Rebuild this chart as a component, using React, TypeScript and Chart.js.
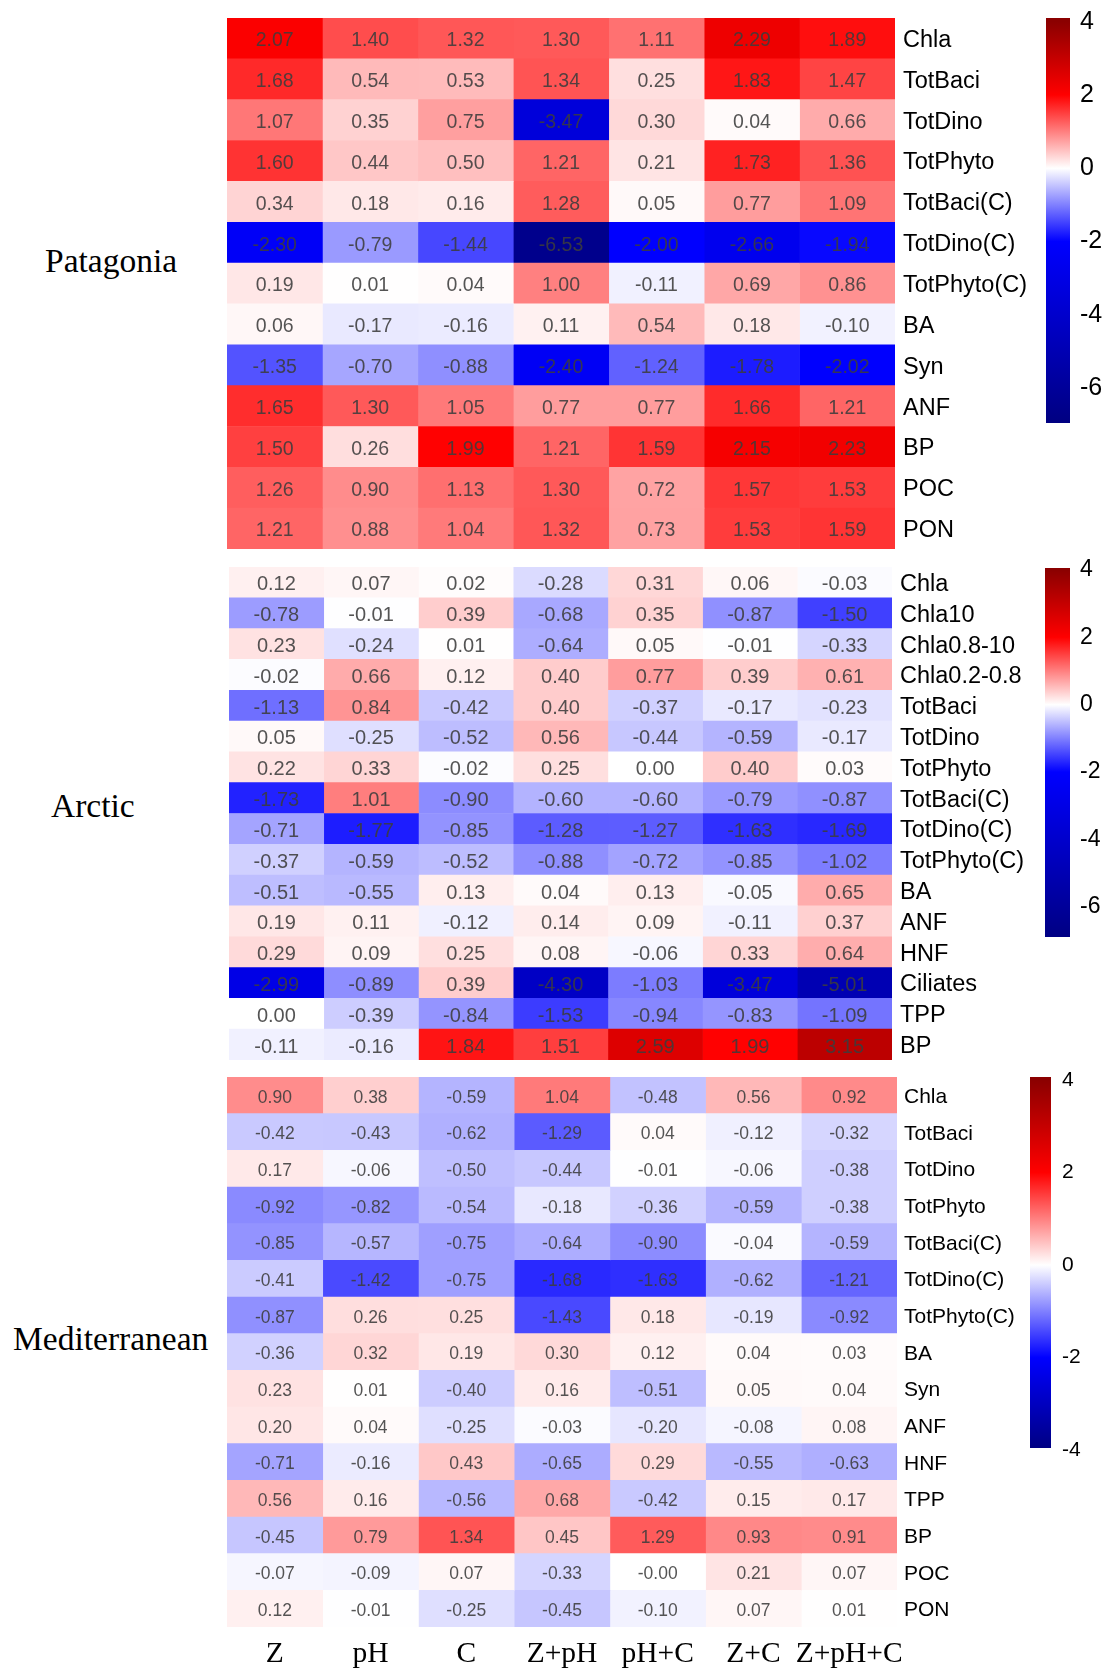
import React, { useEffect, useRef } from "react";
import { Chart, registerables } from "chart.js";
Chart.register(...registerables);

// ---------- data ----------
const columns = ["Z", "pH", "C", "Z+pH", "pH+C", "Z+C", "Z+pH+C"];

const patagoniaRows = ["Chla", "TotBaci", "TotDino", "TotPhyto", "TotBaci(C)", "TotDino(C)", "TotPhyto(C)", "BA", "Syn", "ANF", "BP", "POC", "PON"];
const patagoniaValues = [
  [2.07, 1.40, 1.32, 1.30, 1.11, 2.29, 1.89],
  [1.68, 0.54, 0.53, 1.34, 0.25, 1.83, 1.47],
  [1.07, 0.35, 0.75, -3.47, 0.30, 0.04, 0.66],
  [1.60, 0.44, 0.50, 1.21, 0.21, 1.73, 1.36],
  [0.34, 0.18, 0.16, 1.28, 0.05, 0.77, 1.09],
  [-2.30, -0.79, -1.44, -6.53, -2.00, -2.66, -1.94],
  [0.19, 0.01, 0.04, 1.00, -0.11, 0.69, 0.86],
  [0.06, -0.17, -0.16, 0.11, 0.54, 0.18, -0.10],
  [-1.35, -0.70, -0.88, -2.40, -1.24, -1.78, -2.02],
  [1.65, 1.30, 1.05, 0.77, 0.77, 1.66, 1.21],
  [1.50, 0.26, 1.99, 1.21, 1.59, 2.15, 2.23],
  [1.26, 0.90, 1.13, 1.30, 0.72, 1.57, 1.53],
  [1.21, 0.88, 1.04, 1.32, 0.73, 1.53, 1.59],
];

const arcticRows = ["Chla", "Chla10", "Chla0.8-10", "Chla0.2-0.8", "TotBaci", "TotDino", "TotPhyto", "TotBaci(C)", "TotDino(C)", "TotPhyto(C)", "BA", "ANF", "HNF", "Ciliates", "TPP", "BP"];
const arcticValues = [
  [0.12, 0.07, 0.02, -0.28, 0.31, 0.06, -0.03],
  [-0.78, -0.01, 0.39, -0.68, 0.35, -0.87, -1.50],
  [0.23, -0.24, 0.01, -0.64, 0.05, -0.01, -0.33],
  [-0.02, 0.66, 0.12, 0.40, 0.77, 0.39, 0.61],
  [-1.13, 0.84, -0.42, 0.40, -0.37, -0.17, -0.23],
  [0.05, -0.25, -0.52, 0.56, -0.44, -0.59, -0.17],
  [0.22, 0.33, -0.02, 0.25, 0.00, 0.40, 0.03],
  [-1.73, 1.01, -0.90, -0.60, -0.60, -0.79, -0.87],
  [-0.71, -1.77, -0.85, -1.28, -1.27, -1.63, -1.69],
  [-0.37, -0.59, -0.52, -0.88, -0.72, -0.85, -1.02],
  [-0.51, -0.55, 0.13, 0.04, 0.13, -0.05, 0.65],
  [0.19, 0.11, -0.12, 0.14, 0.09, -0.11, 0.37],
  [0.29, 0.09, 0.25, 0.08, -0.06, 0.33, 0.64],
  [-2.99, -0.89, 0.39, -4.30, -1.03, -3.47, -5.01],
  [0.00, -0.39, -0.84, -1.53, -0.94, -0.83, -1.09],
  [-0.11, -0.16, 1.84, 1.51, 2.59, 1.99, 3.15],
];

const medRows = ["Chla", "TotBaci", "TotDino", "TotPhyto", "TotBaci(C)", "TotDino(C)", "TotPhyto(C)", "BA", "Syn", "ANF", "HNF", "TPP", "BP", "POC", "PON"];
const medValues = [
  [0.90, 0.38, -0.59, 1.04, -0.48, 0.56, 0.92],
  [-0.42, -0.43, -0.62, -1.29, 0.04, -0.12, -0.32],
  [0.17, -0.06, -0.50, -0.44, -0.01, -0.06, -0.38],
  [-0.92, -0.82, -0.54, -0.18, -0.36, -0.59, -0.38],
  [-0.85, -0.57, -0.75, -0.64, -0.90, -0.04, -0.59],
  [-0.41, -1.42, -0.75, -1.68, -1.63, -0.62, -1.21],
  [-0.87, 0.26, 0.25, -1.43, 0.18, -0.19, -0.92],
  [-0.36, 0.32, 0.19, 0.30, 0.12, 0.04, 0.03],
  [0.23, 0.01, -0.40, 0.16, -0.51, 0.05, 0.04],
  [0.20, 0.04, -0.25, -0.03, -0.20, -0.08, 0.08],
  [-0.71, -0.16, 0.43, -0.65, 0.29, -0.55, -0.63],
  [0.56, 0.16, -0.56, 0.68, -0.42, 0.15, 0.17],
  [-0.45, 0.79, 1.34, 0.45, 1.29, 0.93, 0.91],
  [-0.07, -0.09, 0.07, -0.33, -0, 0.21, 0.07],
  [0.12, -0.01, -0.25, -0.45, -0.10, 0.07, 0.01],
];

const colorbarTicksPatagonia = [4, 2, 0, -2, -4, -6];
const colorbarTicksArctic = [4, 2, 0, -2, -4, -6];
const colorbarTicksMed = [4, 2, 0, -2, -4];

const colorStopColors = ["#000080", "#0000FF", "#FFFFFF", "#FF0000", "#8B0000"];
const colorStopValuesWide = [-7, -2, 0, 2, 4];
const colorStopValuesNarrow = [-4, -2, 0, 2, 4];

// ---------- helpers ----------
type RGB = [number, number, number];
function hexToRgb(h: string): RGB {
  return [parseInt(h.slice(1, 3), 16), parseInt(h.slice(3, 5), 16), parseInt(h.slice(5, 7), 16)];
}
function colorAt(v: number, stopVals: number[]): string {
  const cols = colorStopColors.map(hexToRgb);
  let c: RGB = cols[0];
  if (v <= stopVals[0]) c = cols[0];
  else if (v >= stopVals[stopVals.length - 1]) c = cols[cols.length - 1];
  else {
    for (let i = 1; i < stopVals.length; i++) {
      if (v <= stopVals[i]) {
        const t = (v - stopVals[i - 1]) / (stopVals[i] - stopVals[i - 1]);
        const a = cols[i - 1], b = cols[i];
        c = [0, 1, 2].map((k) => Math.round(a[k] + (b[k] - a[k]) * t)) as RGB;
        break;
      }
    }
  }
  return `rgb(${c[0]},${c[1]},${c[2]})`;
}
function fmt(v: number): string {
  return (Object.is(v, -0) ? "-" : "") + v.toFixed(2);
}

const SANS = '"Liberation Sans", Arial, Helvetica, sans-serif';
const SERIF = '"Liberation Serif", "Times New Roman", serif';

const cellTextPlugin = {
  id: "cellText",
  afterDatasetsDraw(chart: any, _args: any, opts: any) {
    const ctx = chart.ctx;
    ctx.save();
    ctx.font = `${opts.size}px ${SANS}`;
    ctx.fillStyle = opts.color;
    ctx.textAlign = "center";
    ctx.textBaseline = "middle";
    chart.data.datasets.forEach((_ds: any, c: number) => {
      const meta = chart.getDatasetMeta(c);
      meta.data.forEach((el: any, r: number) => {
        const p = el.getCenterPoint();
        ctx.fillText(fmt(opts.values[r][c]), p.x, p.y + 2.5);
      });
    });
    ctx.restore();
  },
};

type HeatProps = {
  left: number; top: number; width: number; height: number; labelW: number;
  rows: string[]; values: number[][]; stopVals: number[];
  cellFont: number; rowFont: number; labelPad: number; bottomH?: number;
};

function Heatmap(p: HeatProps) {
  const ref = useRef<HTMLCanvasElement>(null);
  const totalW = p.width + p.labelW;
  const totalH = p.height + (p.bottomH || 0);
  useEffect(() => {
    const datasets = columns.map((col, c) => ({
      label: col,
      data: p.rows.map(() => [c, c + 1]),
      backgroundColor: p.rows.map((_, r) => colorAt(p.values[r][c], p.stopVals)),
      borderWidth: 0,
      barPercentage: 1,
      categoryPercentage: 1,
      grouped: false,
    }));
    const scales: any = {
      x: { type: "linear", min: 0, max: columns.length, display: false },
      y: {
        type: "category",
        position: "right",
        offset: true,
        grid: { display: false, drawTicks: false },
        border: { display: false },
        ticks: { color: "#000", font: { family: SANS, size: p.rowFont }, padding: p.labelPad, autoSkip: false, labelOffset: 2 },
        afterFit: (s: any) => { s.width = p.labelW; s.paddingTop = 0; s.paddingBottom = 0; },
      },
    };
    if (p.bottomH) {
      scales.xl = {
        type: "category",
        labels: columns,
        position: "bottom",
        offset: true,
        grid: { display: false, drawTicks: false },
        border: { display: false },
        ticks: { color: "#000", font: { family: SERIF, size: 29.5 }, padding: 10, maxRotation: 0, autoSkip: false },
        afterFit: (s: any) => { s.height = p.bottomH; s.paddingLeft = 0; s.paddingRight = 0; },
      };
    }
    const chart = new Chart(ref.current!, {
      type: "bar",
      data: { labels: p.rows, datasets: datasets as any },
      options: {
        indexAxis: "y",
        animation: false,
        responsive: false,
        devicePixelRatio: 1,
        layout: { padding: 0 },
        plugins: {
          legend: { display: false },
          tooltip: { enabled: false },
          cellText: { values: p.values, size: p.cellFont, color: "rgba(60,60,60,0.88)" },
        } as any,
        scales,
      },
      plugins: [cellTextPlugin],
    });
    return () => chart.destroy();
  }, []);
  return (
    <canvas ref={ref} width={totalW} height={totalH}
      style={{ position: "absolute", left: p.left, top: p.top, width: totalW, height: totalH }} />
  );
}

type BarProps = {
  left: number; barTop: number; barW: number; barH: number; labelW: number;
  min: number; max: number; ticks: number[]; stopVals: number[]; font: number; pad: number;
};

function ColorBar(p: BarProps) {
  const ref = useRef<HTMLCanvasElement>(null);
  const padT = 16, padB = 16;
  const totalW = p.barW + p.labelW;
  const totalH = p.barH + padT + padB;
  useEffect(() => {
    const chart = new Chart(ref.current!, {
      type: "bar",
      data: {
        labels: [""],
        datasets: [{
          data: [[p.min, p.max]] as any,
          borderWidth: 0,
          barPercentage: 1,
          categoryPercentage: 1,
          backgroundColor: (ctx: any) => {
            const ch = ctx.chart;
            const ys = ch.scales.y;
            if (!ch.chartArea || !ys) return "transparent";
            const y0 = ys.getPixelForValue(p.max);
            const y1 = ys.getPixelForValue(p.min);
            const g = ch.ctx.createLinearGradient(0, y0, 0, y1);
            g.addColorStop(0, colorAt(p.max, p.stopVals));
            p.stopVals.forEach((v) => {
              if (v > p.min && v < p.max) g.addColorStop((p.max - v) / (p.max - p.min), colorAt(v, p.stopVals));
            });
            g.addColorStop(1, colorAt(p.min, p.stopVals));
            return g;
          },
        }],
      },
      options: {
        animation: false,
        responsive: false,
        devicePixelRatio: 1,
        layout: { padding: { top: padT, bottom: padB, left: 0, right: 0 } },
        plugins: { legend: { display: false }, tooltip: { enabled: false } },
        scales: {
          x: { display: false },
          y: {
            position: "right",
            min: p.min,
            max: p.max,
            grid: { display: false, drawTicks: false },
            border: { display: false },
            ticks: { color: "#000", font: { family: SANS, size: p.font }, padding: p.pad, callback: (v: any) => String(v) },
            afterBuildTicks: (s: any) => { s.ticks = p.ticks.map((v) => ({ value: v })); },
            afterFit: (s: any) => { s.width = p.labelW; s.paddingTop = 0; s.paddingBottom = 0; },
          } as any,
        },
      },
    });
    return () => chart.destroy();
  }, []);
  return (
    <canvas ref={ref} width={totalW} height={totalH}
      style={{ position: "absolute", left: p.left, top: p.barTop - padT, width: totalW, height: totalH }} />
  );
}

function RegionLabel({ text, left, cy, size }: { text: string; left: number; cy: number; size: number }) {
  return (
    <div style={{ position: "absolute", left, top: cy - size * 0.5, fontFamily: SERIF, fontSize: size, lineHeight: `${size}px`, color: "#000", whiteSpace: "nowrap" }}>
      {text}
    </div>
  );
}

export default function App() {
  return (
    <div style={{ position: "absolute", left: 0, top: 0, width: 1107, height: 1668, background: "#fff", overflow: "hidden" }}>
      <Heatmap left={227} top={18} width={668} height={531} labelW={140} rows={patagoniaRows} values={patagoniaValues}
        stopVals={colorStopValuesWide} cellFont={19.5} rowFont={23.5} labelPad={8} />
      <Heatmap left={229} top={567} width={663} height={493} labelW={140} rows={arcticRows} values={arcticValues}
        stopVals={colorStopValuesWide} cellFont={20} rowFont={23.5} labelPad={8} />
      <Heatmap left={227} top={1077} width={670} height={550} labelW={130} rows={medRows} values={medValues}
        stopVals={colorStopValuesNarrow} cellFont={17.5} rowFont={21} labelPad={7} bottomH={41} />

      <ColorBar left={1046} barTop={18} barW={24} barH={405} labelW={50} min={-6.95} max={4.1}
        ticks={colorbarTicksPatagonia} stopVals={colorStopValuesWide} font={25} pad={10} />
      <ColorBar left={1045} barTop={568} barW={25} barH={369} labelW={50} min={-6.9} max={4.06}
        ticks={colorbarTicksArctic} stopVals={colorStopValuesWide} font={23} pad={10} />
      <ColorBar left={1030} barTop={1077} barW={21} barH={371} labelW={50} min={-3.95} max={4.06}
        ticks={colorbarTicksMed} stopVals={colorStopValuesNarrow} font={21} pad={11} />

      <RegionLabel text="Patagonia" left={45} cy={261} size={33.5} />
      <RegionLabel text="Arctic" left={51} cy={806} size={33.5} />
      <RegionLabel text="Mediterranean" left={13} cy={1339} size={33.5} />
    </div>
  );
}
